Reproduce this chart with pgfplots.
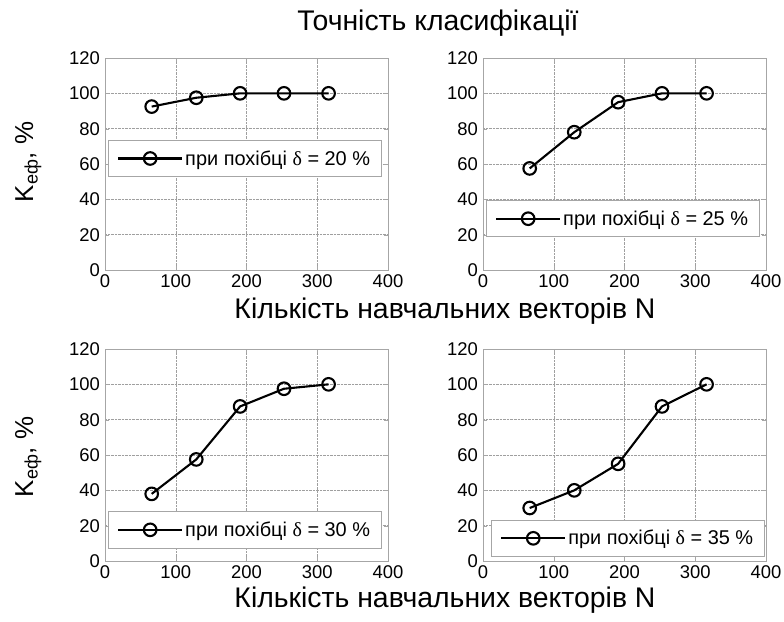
\documentclass[border=0pt]{standalone}
\usepackage{fontspec}
\setmainfont{Liberation Sans}
\newfontfamily\serifdelta{Liberation Serif}
\usepackage{pgfplots}
\pgfplotsset{compat=1.18}
\newcommand{\dlt}{{\serifdelta δ}}
\pgfplotsset{
  panel/.style={
    scale only axis, width=283bp, height=212bp,
    xmin=0, xmax=400, ymin=0, ymax=120,
    xtick={0,100,200,300,400}, ytick={0,20,40,60,80,100,120},
    grid=major,
    major grid style={gray!75, densely dotted, line width=0.5pt},
    axis line style={gray!70, line width=0.6pt},
    tick style={gray!70},
    tick align=inside, major tick length=4bp,
    /pgf/number format/assume math mode=true,
    tick label style={font=\fontsize{18.5}{20}\selectfont},
    xticklabel style={yshift=-1.5bp},
    yticklabel style={xshift=-1.5bp},
    legend cell align=left,
    legend style={draw=gray!70, line width=0.6pt, font=\fontsize{20}{22}\selectfont,
      inner xsep=9bp, inner ysep=8bp, anchor=west},
    legend image code/.code={\draw[mark repeat=2,mark phase=2,#1] plot coordinates {(0bp,0bp) (32bp,0bp) (64bp,0bp)};},
  },
  ser/.style={black, line width=2.1bp, mark=o, mark size=6.3bp, mark options={solid, line width=2.1bp}},
}
\begin{document}
\begin{tikzpicture}
\useasboundingbox (0,0) rectangle (784bp,-622bp);

\node[anchor=base, font=\fontsize{28.5}{32}\selectfont, inner sep=0pt] at (438bp,-30bp) {Точність класифікації};

% top-left
\begin{axis}[panel, at={(105bp,-270bp)}, anchor=south west,
  legend style={at={(0.01,0.526)}}]
\addplot[ser] coordinates {(66,92.5) (129,97.5) (191,100) (253,100) (316,100)};
\addlegendentry{при похібці \dlt{} = 20 \%}
\end{axis}

% top-right
\begin{axis}[panel, at={(483bp,-270bp)}, anchor=south west,
  legend style={at={(0.01,0.242)}}]
\addplot[ser] coordinates {(66,57.5) (129,78) (191,95) (253,100) (316,100)};
\addlegendentry{при похібці \dlt{} = 25 \%}
\end{axis}

% bottom-left
\begin{axis}[panel, at={(105bp,-561bp)}, anchor=south west,
  legend style={at={(0.01,0.147)}}]
\addplot[ser] coordinates {(66,38) (129,57.5) (191,87.5) (253,97.5) (316,100)};
\addlegendentry{при похібці \dlt{} = 30 \%}
\end{axis}

% bottom-right
\begin{axis}[panel, at={(483bp,-561bp)}, anchor=south west,
  legend style={at={(0.028,0.107)}}]
\addplot[ser] coordinates {(66,30) (129,40) (191,55) (253,87.5) (316,100)};
\addlegendentry{при похібці \dlt{} = 35 \%}
\end{axis}

\node[anchor=base, font=\fontsize{28.5}{32}\selectfont, inner sep=0pt] at (445bp,-318bp) {Кількість навчальних векторів N};
\node[anchor=base, font=\fontsize{28.5}{32}\selectfont, inner sep=0pt] at (445bp,-607bp) {Кількість навчальних векторів N};

\node[rotate=90, anchor=base, font=\fontsize{26}{29}\selectfont, inner sep=0pt] at (33bp,-162bp) {K\textsubscript{еф}, \%};
\node[rotate=90, anchor=base, font=\fontsize{26}{29}\selectfont, inner sep=0pt] at (33bp,-457bp) {K\textsubscript{еф}, \%};
\end{tikzpicture}
\end{document}
